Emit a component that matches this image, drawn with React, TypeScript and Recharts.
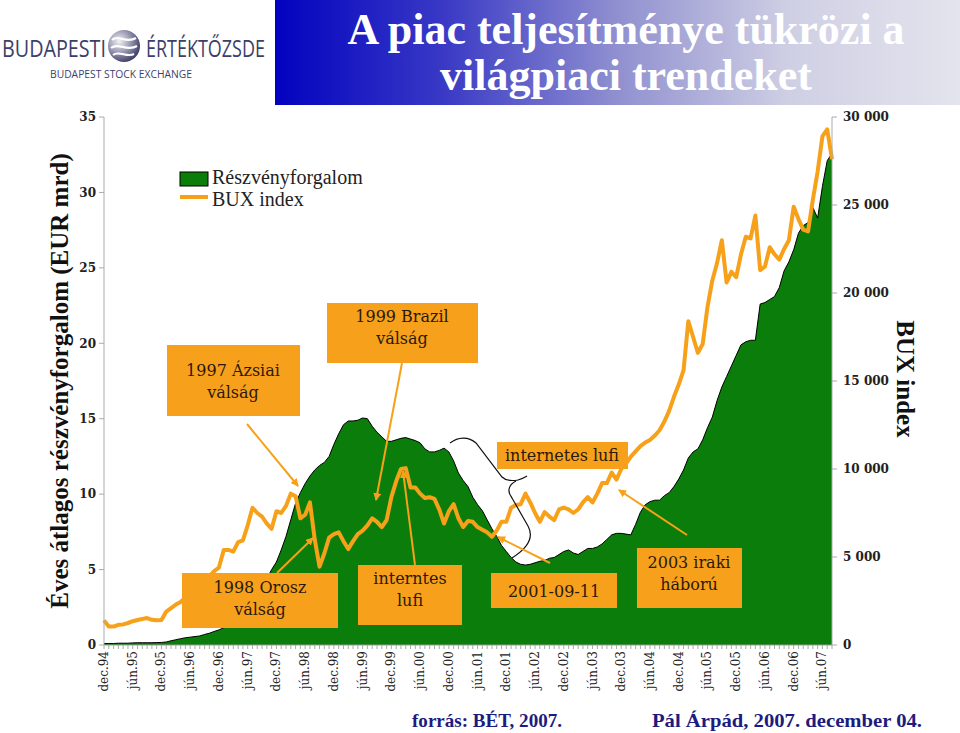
import React from "react";
import { Area, ComposedChart, Line, XAxis, YAxis } from "recharts";

// monthly series, first point is dec.94
const monthNames = ["jan.", "feb.", "márc.", "ápr.", "máj.", "jún.", "júl.", "aug.", "szept.", "okt.", "nov.", "dec."];
const firstYear = 1994;
const firstMonth = 11;

const tickLabels = [
  "dec.94", "jún.95", "dec.95", "jún.96", "dec.96", "jún.97", "dec.97", "jún.98", "dec.98",
  "jún.99", "dec.99", "jún.00", "dec.00", "jún.01", "dec.01", "jún.02", "dec.02", "jún.03",
  "dec.03", "jún.04", "dec.04", "jún.05", "dec.05", "jún.06", "dec.06", "jún.07",
];

const leftTicks = [0, 5, 10, 15, 20, 25, 30, 35];
const rightTicks = [0, 5000, 10000, 15000, 20000, 25000, 30000];

// Éves átlagos részvényforgalom (EUR mrd)
const turnover = [
  0.1, 0.1, 0.1, 0.12, 0.12, 0.12, 0.14, 0.15, 0.15, 0.15, 0.15, 0.16,
  0.17, 0.2, 0.28, 0.35, 0.42, 0.48, 0.52, 0.56, 0.6, 0.7, 0.78, 0.9,
  1.0, 1.15, 1.35, 1.45, 1.8, 2.1, 2.4, 2.8, 3.3, 3.8, 4.4, 5.0,
  5.5, 6.3, 7.2, 8.3, 9.4, 10.1, 10.7, 11.2, 11.6, 11.9, 12.1, 12.5,
  13.3, 14.0, 14.6, 14.85, 14.85, 14.9, 15.05, 15.0, 14.5, 14.1, 13.8, 13.5,
  13.5, 13.6, 13.7, 13.75, 13.65, 13.55, 13.4, 13.0, 12.8, 12.8, 12.9, 13.05,
  12.8, 12.2, 11.4, 10.9, 10.5, 9.8, 9.3, 8.9, 8.3, 7.7, 7.2, 6.6,
  6.2, 5.8, 5.5, 5.35, 5.3, 5.35, 5.45, 5.55, 5.6, 5.75, 5.8, 6.0,
  6.2, 6.3, 6.1, 6.0, 6.2, 6.4, 6.4, 6.5, 6.7, 7.0, 7.3, 7.4,
  7.4, 7.35, 7.3, 8.0, 8.8, 9.3, 9.5, 9.6, 9.6, 9.9, 10.1, 10.5,
  11.0, 11.6, 12.4, 12.8, 13.0, 13.6, 14.4, 15.1, 16.2, 17.1, 17.8, 18.5,
  19.2, 19.9, 20.1, 20.2, 20.2, 22.6, 22.7, 22.9, 23.1, 23.7, 24.8, 25.4,
  26.2, 27.3, 27.8, 28.0, 29.0, 28.3, 30.4, 32.1, 32.6,
];

// BUX index
const bux = [
  1400, 1050, 1050, 1150, 1170, 1250, 1350, 1420, 1480, 1530, 1430, 1400,
  1420, 1900, 2100, 2300, 2450, 2700, 2900, 3200, 3500, 3700, 3900, 4200,
  4400, 5400, 5400, 5300, 5850, 5950, 6800, 7800, 7500, 7300, 6900, 6600,
  7600, 7500, 7900, 8600, 8450, 7200, 7400, 8100, 6000, 4450, 5200, 6100,
  6300, 6400, 5900, 5450, 5900, 6300, 6500, 6800, 7200, 7000, 6700, 7100,
  8400, 9300, 10000, 10050, 8950, 8950, 8600, 8350, 8400, 8300, 7700, 6900,
  7600, 8000, 7200, 6700, 7050, 7000, 6700, 6550, 6400, 6150, 6500, 7000,
  7000, 7800, 7950, 8000, 8600, 8100, 7500, 7000, 7550, 7300, 7100, 7700,
  7800, 7700, 7500, 7700, 8100, 8400, 8100, 8600, 9200, 9200, 9800, 9400,
  10000, 10300, 10700, 11000, 11300, 11500, 11650, 11900, 12200, 12700, 13300, 14100,
  14800, 15600, 18400, 17500, 16600, 17100, 19200, 20700, 21700, 23000, 20600, 21200,
  20900, 22200, 23200, 23100, 24400, 21300, 21500, 22600, 22200, 21900, 22500, 23000,
  24900, 24200, 23600, 23500, 25300, 26900, 28900, 29300, 27600,
];

const months = turnover.map((_, i) => {
  const m = (firstMonth + i) % 12;
  const y = firstYear + Math.floor((firstMonth + i) / 12);
  return monthNames[m] + String(y).slice(2);
});

const data = months.map((month, i) => ({ month, turnover: turnover[i], bux: bux[i] }));

const GREEN = "#0a7d0a";
const ORANGE = "#f7a11a";
const BOX = "#f7a01c";
const serif = "'DejaVu Serif', Georgia, serif";
const times = "'Liberation Serif', 'Times New Roman', serif";

const spaced = (v: number) => String(v).replace(/\B(?=(\d{3})+(?!\d))/g, " ");

function MonthTick({ x, y, payload }: any) {
  if (!tickLabels.includes(payload.value)) return <g />;
  return (
    <text x={x} y={y} transform={`rotate(-90 ${x} ${y})`} textAnchor="end" dominantBaseline="central"
      fontFamily={serif} fontSize={12} fill="#222">
      {payload.value}
    </text>
  );
}

function Note({ x, y, w, h, lines, cx, base }: { x: number; y: number; w: number; h: number; lines: string[]; cx: number; base: number }) {
  return (
    <g>
      <rect x={x} y={y} width={w} height={h} fill={BOX} />
      {lines.map((t, i) => (
        <text key={i} x={cx} y={base + i * 22} textAnchor="middle" fontFamily={serif} fontSize={16} fill="#2b1a0a">{t}</text>
      ))}
    </g>
  );
}

function Overlay() {
  const arrows = [
    [247, 424, 298, 486],
    [402, 363, 376, 500],
    [277, 573, 313, 538],
    [415, 565, 403, 471],
    [550, 563, 498, 537],
    [687, 535, 619, 490],
  ];
  return (
    <svg width={960} height={733} style={{ position: "absolute", left: 0, top: 0, pointerEvents: "none" }}>
      <defs>
        <linearGradient id="titleGrad" x1="0" x2="1" y1="0" y2="0">
          <stop offset="0" stopColor="#0202c0" />
          <stop offset="0.25" stopColor="#3a3ac6" />
          <stop offset="0.5" stopColor="#9090d0" />
          <stop offset="0.75" stopColor="#cfcfe4" />
          <stop offset="1" stopColor="#e4e4ee" />
        </linearGradient>
        <radialGradient id="globe" cx="0.35" cy="0.35" r="0.7">
          <stop offset="0" stopColor="#f2f2f6" />
          <stop offset="0.5" stopColor="#9a9ab4" />
          <stop offset="1" stopColor="#3c3c66" />
        </radialGradient>
        <marker id="head" markerWidth="8" markerHeight="8" refX="7" refY="4" orient="auto" markerUnits="userSpaceOnUse">
          <path d="M0,0 L8,4 L0,8 Z" fill={ORANGE} />
        </marker>
      </defs>

      {/* logo */}
      <text x={2} y={57} fontFamily="'Open Sans', sans-serif" fontSize={24} fill="#3d3f6b" textLength={104} lengthAdjust="spacingAndGlyphs">BUDAPESTI</text>
      <circle cx={124} cy={46} r={16} fill="url(#globe)" />
      <path d="M112,40 C118,34 126,44 136,38 M111,48 C118,42 127,52 137,46 M113,55 C119,50 127,58 134,54" stroke="#fff" strokeWidth={2.2} fill="none" />
      <text x={146} y={57} fontFamily="'Open Sans', sans-serif" fontSize={24} fill="#3d3f6b" textLength={119} lengthAdjust="spacingAndGlyphs">ÉRTÉKTŐZSDE</text>
      <text x={50} y={78} fontFamily="'Open Sans', sans-serif" fontSize={11} fill="#3d3f6b" textLength={142} lengthAdjust="spacingAndGlyphs">BUDAPEST STOCK EXCHANGE</text>

      {/* title */}
      <rect x={275} y={0} width={685} height={105} fill="url(#titleGrad)" />
      <text x={626} y={44} textAnchor="middle" fontFamily={times} fontWeight="bold" fontSize={44} fill="#fff">A piac teljesítménye tükrözi a</text>
      <text x={626} y={90} textAnchor="middle" fontFamily={times} fontWeight="bold" fontSize={44} fill="#fff">világpiaci trendeket</text>

      {/* axis titles */}
      <text transform="translate(68 381) rotate(-90)" textAnchor="middle" fontFamily={times} fontWeight="bold" fontSize={25} fill="#111">Éves átlagos részvényforgalom (EUR mrd)</text>
      <text transform="translate(897 379) rotate(90)" textAnchor="middle" fontFamily={times} fontWeight="bold" fontSize={25} fill="#111">BUX index</text>

      {/* legend */}
      <rect x={180} y={172} width={28} height={14} fill={GREEN} stroke="#000" strokeWidth={1} />
      <line x1={180} x2={208} y1={197} y2={197} stroke={ORANGE} strokeWidth={4} />
      <text x={212} y={184} fontFamily={times} fontSize={20} fill="#222">Részvényforgalom</text>
      <text x={212} y={206} fontFamily={times} fontSize={20} fill="#222">BUX index</text>

      {/* internet bubble brace */}
      <path d="M450,443 C458,437 468,436 476,443 L502,477 C506,481 512,481 518,480 C521,479 524,478 527,476" stroke="#111" strokeWidth={1.2} fill="none" />
      <path d="M516,481 C508,485 507,492 512,498 L528,526 C533,535 531,546 512,558" stroke="#111" strokeWidth={1.2} fill="none" />

      {/* arrows */}
      {arrows.map(([x1, y1, x2, y2], i) => (
        <line key={i} x1={x1} y1={y1} x2={x2} y2={y2} stroke={ORANGE} strokeWidth={2} markerEnd="url(#head)" />
      ))}

      {/* callouts */}
      <Note x={167} y={345} w={133} h={71} lines={["1997 Ázsiai", "válság"]} cx={233} base={376} />
      <Note x={327} y={303} w={151} h={60} lines={["1999 Brazil", "válság"]} cx={402} base={322} />
      <Note x={182} y={573} w={156} h={55} lines={["1998 Orosz", "válság"]} cx={260} base={593} />
      <Note x={358} y={565} w={104} h={60} lines={["interntes", "lufi"]} cx={410} base={584} />
      <Note x={497} y={442} w={131} h={27} lines={["internetes lufi"]} cx={562} base={461} />
      <Note x={491} y={573} w={126} h={35} lines={["2001-09-11"]} cx={554} base={597} />
      <Note x={637} y={548} w={105} h={60} lines={["2003 iraki", "háború"]} cx={689} base={568} />

      {/* footer */}
      <text x={412} y={727} fontFamily={times} fontWeight="bold" fontSize={18} fill="#1c1c80" textLength={150} lengthAdjust="spacingAndGlyphs">forrás: BÉT, 2007.</text>
      <text x={652} y={727} fontFamily={times} fontWeight="bold" fontSize={19} fill="#1c1c80" textLength={270} lengthAdjust="spacingAndGlyphs">Pál Árpád, 2007. december 04.</text>
    </svg>
  );
}

export default function App() {
  return (
    <div style={{ position: "absolute", left: 0, top: 0, width: 960, height: 733, background: "#fff" }}>
      <ComposedChart width={960} height={733} data={data} margin={{ top: 117, right: 80, bottom: 0, left: 54 }}>
        <XAxis dataKey="month" scale="point" interval={0} height={88} tickSize={4} tickMargin={2}
          axisLine={{ stroke: "#999" }} tickLine={{ stroke: "#aaa" }} tick={<MonthTick />} />
        <YAxis yAxisId="left" domain={[0, 35]} ticks={leftTicks} width={50} tickSize={5} tickMargin={3}
          axisLine={{ stroke: "#aaa" }} tickLine={{ stroke: "#aaa" }}
          tick={{ fontFamily: serif, fontWeight: "bold", fontSize: 12, fill: "#222" }} />
        <YAxis yAxisId="right" orientation="right" domain={[0, 30000]} ticks={rightTicks} width={48} tickSize={5} tickMargin={6}
          axisLine={{ stroke: "#aaa" }} tickLine={{ stroke: "#aaa" }} tickFormatter={spaced}
          tick={{ fontFamily: serif, fontWeight: "bold", fontSize: 12, fill: "#222" }} />
        <Area yAxisId="left" dataKey="turnover" type="linear" fill={GREEN} fillOpacity={1} stroke="#000" strokeWidth={1}
          dot={false} activeDot={false} isAnimationActive={false} />
        <Line yAxisId="right" dataKey="bux" type="linear" stroke={ORANGE} strokeWidth={4} strokeLinejoin="round"
          dot={false} activeDot={false} isAnimationActive={false} />
      </ComposedChart>
      <Overlay />
    </div>
  );
}
